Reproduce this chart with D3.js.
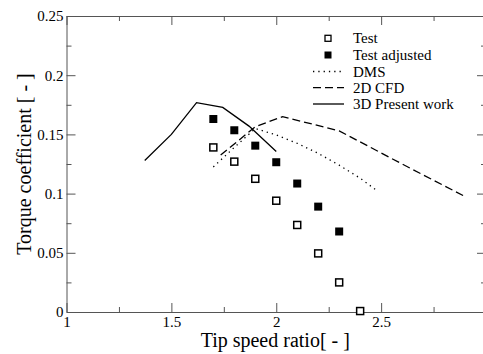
<!DOCTYPE html>
<html>
<head>
<meta charset="utf-8">
<script src="https://cdn.jsdelivr.net/npm/d3@7"></script>
<style>
  body { margin: 0; background: #fff; }
  svg { display: block; }
  .axis path, .axis line { stroke: #555; }
</style>
</head>
<body>
<svg id="chart"></svg>
<script>
// values
const testX = [1.7, 1.8, 1.9, 2.0, 2.1, 2.2, 2.3, 2.4];
const testY = [0.139, 0.127, 0.1125, 0.094, 0.0735, 0.0495, 0.025, 0.0008];
const adjX = [1.7, 1.8, 1.9, 2.0, 2.1, 2.2, 2.3];
const adjY = [0.163, 0.1535, 0.1405, 0.1265, 0.1085, 0.089, 0.068];
const dmsX = [1.7, 1.8, 1.9, 2.0, 2.1, 2.2, 2.3, 2.4, 2.48];
const dmsY = [0.1225, 0.139, 0.155, 0.1495, 0.1425, 0.134, 0.124, 0.113, 0.1025];
const cfdX = [1.735, 1.9, 2.03, 2.3, 2.6, 2.9];
const cfdY = [0.1325, 0.1565, 0.165, 0.153, 0.125, 0.0975];
const presX = [1.373, 1.5, 1.62, 1.745, 1.87, 2.0];
const presY = [0.128, 0.15, 0.1768, 0.1728, 0.157, 0.1355];

const xTicks = [1, 1.5, 2, 2.5];
const yTicks = [0, 0.05, 0.1, 0.15, 0.2, 0.25];
const legendNames = ["Test", "Test adjusted", "DMS", "2D CFD", "3D Present work"];

const FONT = "'Liberation Serif', 'Times New Roman', Times, serif";

const W = 483, H = 354;
const margin = {top: 16, right: -3, bottom: 42, left: 66.5};
const width = W - margin.left - margin.right,
      height = H - margin.top - margin.bottom;

const svg = d3.select("#chart").attr("width", W).attr("height", H);
const g = svg.append("g").attr("transform", "translate(" + margin.left + "," + margin.top + ")");

const x = d3.scaleLinear().domain([1, 3]).range([0, width]);
const y = d3.scaleLinear().domain([0, 0.25]).range([height, 0]);

const xMinor = d3.range(1, 3.001, 0.25).filter(v => !xTicks.includes(+v.toFixed(2)));
const yMinor = d3.range(0.025, 0.25, 0.05);

function serif(a) {
  a.attr("font-family", FONT).attr("font-size", 15);
  a.selectAll("text").attr("font-family", FONT).attr("font-size", 15).attr("fill", "#000");
}

// minor ticks (inward)
g.append("g").attr("class", "axis").attr("transform", "translate(0," + height + ")")
  .call(d3.axisBottom(x).tickValues(xMinor).tickSize(-5).tickFormat(""))
  .call(a => a.select(".domain").remove());
g.append("g").attr("class", "axis")
  .call(d3.axisTop(x).tickValues(xMinor).tickSize(-5).tickFormat(""))
  .call(a => a.select(".domain").remove());
g.append("g").attr("class", "axis")
  .call(d3.axisLeft(y).tickValues(yMinor).tickSize(-5).tickFormat(""))
  .call(a => a.select(".domain").remove());
g.append("g").attr("class", "axis").attr("transform", "translate(" + width + ",0)")
  .call(d3.axisRight(y).tickValues(yMinor).tickSize(-5).tickFormat(""))
  .call(a => a.select(".domain").remove());

// major ticks and labels
g.append("g").attr("class", "axis").attr("transform", "translate(0," + height + ")")
  .call(d3.axisBottom(x).tickValues(xTicks).tickSize(-9).tickSizeOuter(0).tickPadding(4).tickFormat(d3.format("")))
  .call(serif);
g.append("g").attr("class", "axis")
  .call(d3.axisTop(x).tickValues(xTicks.concat([3])).tickSize(-9).tickSizeOuter(0).tickFormat(""));
g.append("g").attr("class", "axis")
  .call(d3.axisLeft(y).tickValues(yTicks).tickSize(-9).tickSizeOuter(0).tickPadding(3).tickFormat(d3.format("")))
  .call(serif);
g.append("g").attr("class", "axis").attr("transform", "translate(" + width + ",0)")
  .call(d3.axisRight(y).tickValues(yTicks).tickSize(-9).tickSizeOuter(0).tickFormat(""));

// axis titles
svg.append("text")
  .attr("x", margin.left + width / 2 - 1).attr("y", 347)
  .attr("text-anchor", "middle")
  .attr("font-family", FONT).attr("font-size", 20)
  .text("Tip speed ratio[ - ]");
svg.append("text")
  .attr("transform", "translate(31," + (margin.top + height / 2) + ") rotate(-90)")
  .attr("text-anchor", "middle")
  .attr("font-family", FONT).attr("font-size", 20)
  .text("Torque coefficient [ - ]");

// lines
const line = d3.line().x(d => x(d[0])).y(d => y(d[1]));
const lines = [
  {xs: dmsX, ys: dmsY, dash: "1.3,4"},
  {xs: cfdX, ys: cfdY, dash: "8,4"},
  {xs: presX, ys: presY, dash: null}
];
lines.forEach(s => {
  g.append("path")
    .datum(d3.zip(s.xs, s.ys))
    .attr("d", line)
    .attr("fill", "none")
    .attr("stroke", "#000")
    .attr("stroke-width", 1.3)
    .attr("stroke-dasharray", s.dash);
});

// squares
const sq = 7;
g.selectAll(".test").data(d3.zip(testX, testY)).join("rect")
  .attr("x", d => x(d[0]) - sq / 2).attr("y", d => y(d[1]) - sq / 2)
  .attr("width", sq).attr("height", sq)
  .attr("fill", "#fff").attr("stroke", "#000").attr("stroke-width", 1.5);
g.selectAll(".adj").data(d3.zip(adjX, adjY)).join("rect")
  .attr("x", d => x(d[0]) - 4).attr("y", d => y(d[1]) - 4)
  .attr("width", 8).attr("height", 8)
  .attr("fill", "#000");

// legend
const lg = svg.append("g");
const rowY = [38.3, 55, 71.5, 87.7, 104];
legendNames.forEach((name, i) => {
  const cy = rowY[i];
  if (i === 0) {
    lg.append("rect").attr("x", 325).attr("y", cy - 3).attr("width", 6).attr("height", 6)
      .attr("fill", "#fff").attr("stroke", "#000").attr("stroke-width", 1.3);
  } else if (i === 1) {
    lg.append("rect").attr("x", 324.5).attr("y", cy - 3.5).attr("width", 7).attr("height", 7)
      .attr("fill", "#000");
  } else {
    lg.append("line").attr("x1", 313).attr("x2", 344).attr("y1", cy).attr("y2", cy)
      .attr("stroke", "#000").attr("stroke-width", 1.3)
      .attr("stroke-dasharray", lines[i - 2].dash);
  }
  lg.append("text").attr("x", 353).attr("y", cy + 5)
    .attr("font-family", FONT).attr("font-size", 15)
    .text(name);
});
</script>
</body>
</html>
